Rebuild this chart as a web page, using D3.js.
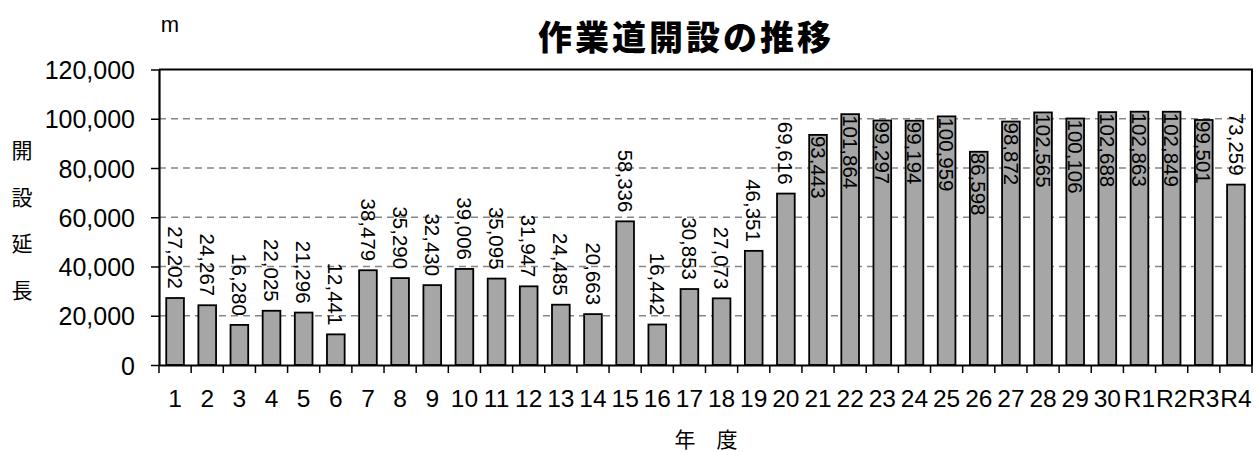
<!DOCTYPE html>
<html lang="ja">
<head>
<meta charset="utf-8">
<script src="https://cdn.jsdelivr.net/npm/d3@7/dist/d3.min.js"></script>
<style>
  html, body { margin: 0; padding: 0; background: #fff; }
  svg { display: block; }
  .num { font-family: "Liberation Sans", Arial, sans-serif; }
  .jp { font-family: "Noto Sans CJK JP", "Noto Sans CJK SC", sans-serif; }
</style>
</head>
<body>
<svg id="chart" width="1258" height="452"></svg>
<script>
// 年度 (平成1〜30年度, 令和1〜4年度)
const years = ["1","2","3","4","5","6","7","8","9","10","11","12","13","14","15","16","17",
  "18","19","20","21","22","23","24","25","26","27","28","29","30","R1","R2","R3","R4"];
// 作業道開設延長 (m)
const lengths = [27202, 24267, 16280, 22025, 21296, 12441, 38479, 35290, 32430, 39006,
  35095, 31947, 24485, 20663, 58336, 16442, 30853, 27073, 46351, 69616, 93443, 101864,
  99297, 99194, 100959, 86598, 98872, 102565, 100106, 102688, 102863, 102849, 99501, 73259];
const yTicks = [0, 20000, 40000, 60000, 80000, 100000, 120000];
const titleText = "作業道開設の推移";
const yTitleChars = ["開", "設", "延", "長"];
const xTitleText = "年\u3000度";
const unitText = "m";

const svg = d3.select("#chart");
const plot = { left: 159, right: 1252, top: 69.5, bottom: 365 };
const fmt = d3.format(",");

const x = d3.scaleBand()
  .domain(years)
  .range([plot.left, plot.right])
  .paddingInner(0.45)
  .paddingOuter(0.225);

const y = d3.scaleLinear()
  .domain([0, 120000])
  .range([plot.bottom, plot.top]);

// dashed gridlines
svg.append("g")
  .selectAll("line")
  .data(yTicks.filter(t => t > 0 && t < 120000))
  .join("line")
  .attr("x1", plot.left).attr("x2", plot.right)
  .attr("y1", d => y(d)).attr("y2", d => y(d))
  .attr("stroke", "#868686")
  .attr("stroke-width", 1.5)
  .attr("stroke-dasharray", "7,5");

// top and right border of the plot area
svg.append("path")
  .attr("d", `M${plot.left},${plot.top}H${plot.right}V${plot.bottom}`)
  .attr("fill", "none")
  .attr("stroke", "#000")
  .attr("stroke-width", 2);

// bars
svg.append("g")
  .selectAll("rect")
  .data(years.map((c, i) => ({ c, v: lengths[i] })))
  .join("rect")
  .attr("x", d => x(d.c))
  .attr("width", x.bandwidth())
  .attr("y", d => y(d.v))
  .attr("height", d => y(0) - y(d.v))
  .attr("fill", "#a6a6a6")
  .attr("stroke", "#000")
  .attr("stroke-width", 1.8);

// y axis
const yAxis = svg.append("g")
  .attr("transform", `translate(${plot.left},0)`)
  .call(d3.axisLeft(y).tickValues(yTicks).tickFormat(fmt).tickSize(8).tickPadding(16).tickSizeOuter(0));
yAxis.select(".domain").attr("stroke-width", 2.2);
yAxis.selectAll(".tick line").attr("stroke-width", 1.5);
yAxis.selectAll("text")
  .attr("class", "num")
  .attr("font-size", 25)
  .attr("fill", "#000")
  .attr("dy", "0.36em");

// x axis: labels at category centres, tick marks at category boundaries
const xAxis = svg.append("g")
  .attr("transform", `translate(0,${plot.bottom})`)
  .call(d3.axisBottom(x).tickSize(0).tickPadding(25).tickSizeOuter(0));
xAxis.select(".domain").attr("stroke-width", 2.2);
xAxis.selectAll("text")
  .attr("class", "num")
  .attr("font-size", 24.5)
  .attr("fill", "#000");
const half = x.step() * x.paddingInner() / 2;
const bounds = years.map(c => x(c) - half).concat([x(years[years.length - 1]) + x.bandwidth() + half]);
xAxis.append("g")
  .selectAll("line")
  .data(bounds)
  .join("line")
  .attr("x1", d => d).attr("x2", d => d)
  .attr("y1", 0).attr("y2", 8)
  .attr("stroke", "#000")
  .attr("stroke-width", 1.5);

// value labels, rotated; placed above the bar, or inside it when there is no room
const labelGap = 9;
const labelG = svg.append("g");
years.forEach((c, i) => {
  const v = lengths[i];
  const cx = x(c) + x.bandwidth() / 2;
  const top = y(v);
  const t = labelG.append("text")
    .attr("class", "num")
    .attr("font-size", 20.5)
    .attr("fill", "#000")
    .text(fmt(v));
  const len = t.node().getComputedTextLength();
  let start = top - labelGap - len;
  if (start < plot.top + 12) start = top + 1;
  t.attr("transform", `translate(${cx},${start}) rotate(90)`)
    .attr("dy", "0.36em");
});

// titles
svg.append("text")
  .attr("class", "jp")
  .attr("x", 538).attr("y", 50)
  .attr("font-size", 34)
  .attr("font-weight", 900)
  .attr("letter-spacing", 3)
  .attr("fill", "#000")
  .text(titleText);

svg.append("text")
  .attr("class", "num")
  .attr("x", 170).attr("y", 32)
  .attr("text-anchor", "middle")
  .attr("font-size", 22)
  .attr("fill", "#000")
  .text(unitText);

svg.append("g")
  .selectAll("text")
  .data(yTitleChars)
  .join("text")
  .attr("class", "jp")
  .attr("x", 22)
  .attr("y", (d, i) => 158 + i * 46.5)
  .attr("text-anchor", "middle")
  .attr("font-size", 21)
  .attr("fill", "#000")
  .text(d => d);

svg.append("text")
  .attr("class", "jp")
  .attr("x", 706).attr("y", 447)
  .attr("text-anchor", "middle")
  .attr("font-size", 21)
  .attr("fill", "#000")
  .text(xTitleText);
</script>
</body>
</html>
